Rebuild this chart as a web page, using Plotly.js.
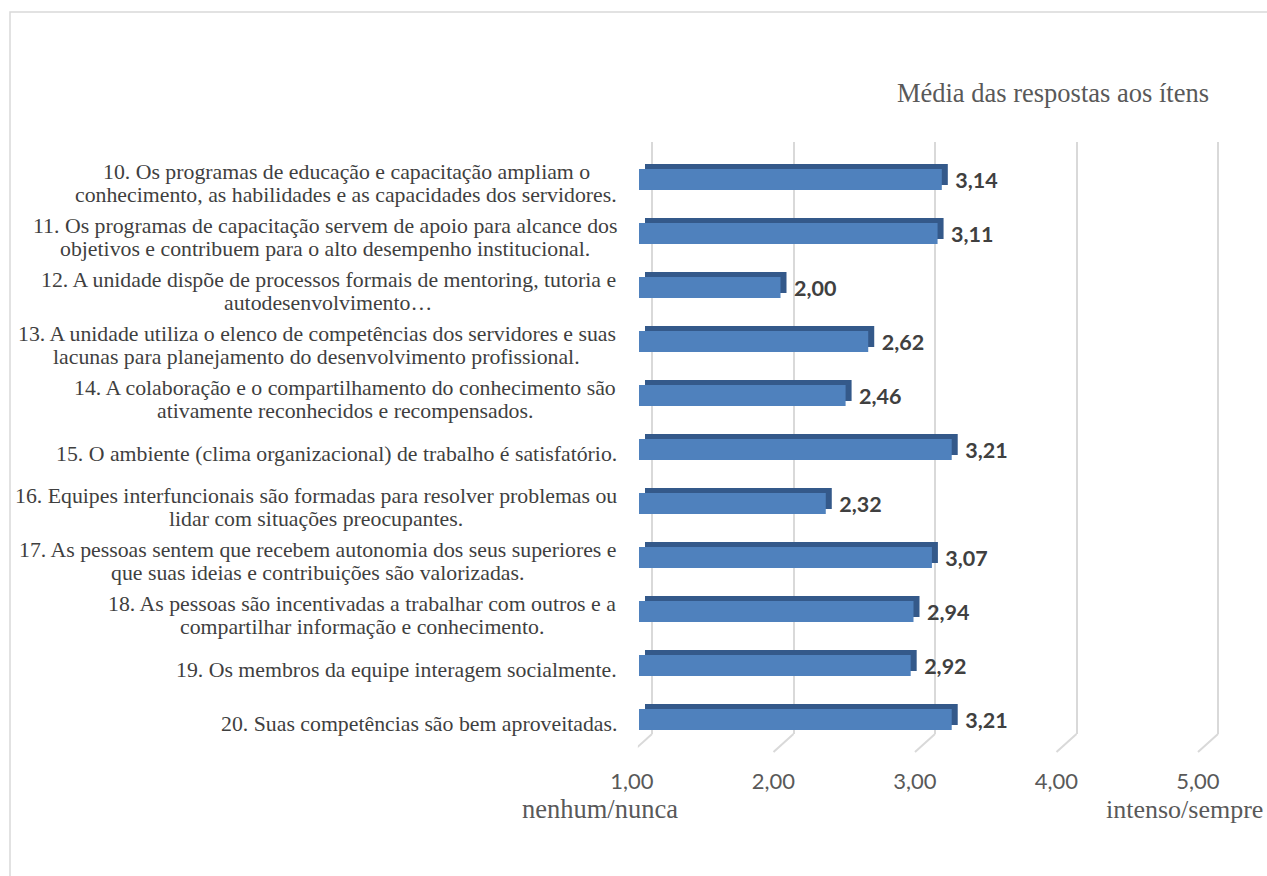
<!DOCTYPE html>
<html>
<head>
<meta charset="utf-8">
<script src="https://cdn.plot.ly/plotly-3.0.1.min.js"></script>
<style>html,body{margin:0;padding:0;background:#fff;}#chart{width:1267px;height:876px;}</style>
</head>
<body>
<div id="chart"></div>
<script>
// ---------- DATA ----------
const categories = [
  "10. Os programas de educação e capacitação ampliam o<br>conhecimento, as habilidades e as capacidades dos servidores.",
  "11. Os programas de capacitação servem de apoio para alcance dos<br>objetivos e contribuem para o alto desempenho institucional.",
  "12. A unidade dispõe de processos formais de mentoring, tutoria e<br>autodesenvolvimento…",
  "13. A unidade utiliza o elenco de competências dos servidores e suas<br>lacunas para planejamento do desenvolvimento profissional.",
  "14. A colaboração e o compartilhamento do conhecimento são<br>ativamente reconhecidos e recompensados.",
  "15. O ambiente (clima organizacional) de trabalho é satisfatório.",
  "16. Equipes interfuncionais são formadas para resolver problemas ou<br>lidar com situações preocupantes.",
  "17. As pessoas sentem que recebem autonomia dos seus superiores e<br>que suas ideias e contribuições são valorizadas.",
  "18. As pessoas são incentivadas a trabalhar com outros e a<br>compartilhar informação e conhecimento.",
  "19. Os membros da equipe interagem socialmente.",
  "20. Suas competências são bem aproveitadas."
];
const values = [3.14, 3.11, 2.00, 2.62, 2.46, 3.21, 2.32, 3.07, 2.94, 2.92, 3.21];
const xTicks = [1, 2, 3, 4, 5];
const chartTitle = "Média das respostas aos ítens";
const scaleLowLabel = "nenhum/nunca";
const scaleHighLabel = "intenso/sempre";

// ---------- GEOMETRY / STYLE ----------
const W = 1267, H = 876;
const PXU = 141.5;              // pixels per unit
const xr = [1, 5];
const px = p => p / W;
const py = p => 1 - p / H;
function xdom(startPx, range) { return [px(startPx), px(startPx + (range[1] - range[0]) * PXU)]; }
const frontX = 639, frontTop = 152.5, frontBot = 746.5;
const gridRange = [0.9, 5.1];
const gridStart = 652 - 0.1 * PXU;

const serif = "'Liberation Serif', 'Times New Roman', serif";
const sans = "Lato, 'Open Sans', sans-serif";
const labelSize = 21.8;

const base = xTicks[0];
const lengths = values.map(v => v - base);

const traces = [
  { // invisible trace anchoring the gridline subplot
    type: 'bar', orientation: 'h', x: lengths, base: base, y: categories, xaxis: 'x', yaxis: 'y',
    marker: {color: 'rgba(0,0,0,0)'}, hoverinfo: 'skip', showlegend: false, width: 0.39
  },
  { // depth (top/side faces)
    type: 'bar', orientation: 'h', x: lengths, base: base, y: categories, xaxis: 'x2', yaxis: 'y2',
    marker: {color: '#34598a', line: {width: 0}}, hoverinfo: 'skip', showlegend: false, width: 0.39
  },
  { // front faces
    type: 'bar', orientation: 'h', x: lengths, base: base, y: categories, customdata: values,
    xaxis: 'x3', yaxis: 'y3',
    marker: {color: '#4f81bd', line: {width: 0}}, showlegend: false, width: 0.39,
    texttemplate: '\u00a0\u00a0%{customdata:.2f}', textposition: 'outside', cliponaxis: false,
    constraintext: 'none',
    hovertemplate: '%{customdata:.2f}<extra></extra>',
    textfont: {family: sans, size: 21.5, color: '#404040', weight: 'bold'},
    outsidetextfont: {family: sans, size: 21.5, color: '#404040', weight: 'bold'}
  }
];

const yCommon = {type: 'category', categoryorder: 'array', categoryarray: categories,
  range: [categories.length - 0.5, -0.5], showticklabels: false, showgrid: false,
  zeroline: false, showline: false, ticks: ''};

// label annotations (each line centred inside a right-anchored block)
const cv = document.createElement('canvas').getContext('2d');
cv.font = labelSize + "px 'Liberation Serif'";
const labelRight = 617, lineGap = 23.5, labelDrop = 4;
const annotations = [];
categories.forEach(cat => {
  const lines = cat.split('<br>');
  const bw = Math.max(...lines.map(l => cv.measureText(l).width));
  lines.forEach((l, i) => {
    annotations.push({
      text: l, xref: 'paper', yref: 'y3', x: px(labelRight - bw / 2), y: cat,
      xanchor: 'center', yanchor: 'middle', showarrow: false,
      yshift: -((i - (lines.length - 1) / 2) * lineGap) - labelDrop,
      font: {family: serif, size: labelSize, color: '#3f3f3f'}
    });
  });
});
annotations.push({text: scaleLowLabel, xref: 'paper', yref: 'paper', x: px(600), y: py(809),
  xanchor: 'center', yanchor: 'middle', showarrow: false, font: {family: serif, size: 26.5, color: '#595959'}});
annotations.push({text: scaleHighLabel, xref: 'paper', yref: 'paper', x: px(1265), y: py(809),
  xanchor: 'right', yanchor: 'middle', showarrow: false, font: {family: serif, size: 26, color: '#595959'}});

const shapes = [{
  type: 'rect', xref: 'paper', yref: 'paper', x0: px(10), x1: 1.02, y0: -0.02, y1: py(12),
  line: {color: '#d9d9d9', width: 1.5}, layer: 'below'
}];
xTicks.forEach(t => shapes.push({
  type: 'line', xref: 'x', yref: 'paper', xsizemode: 'pixel', xanchor: t, x0: 0, x1: -20,
  y0: py(734), y1: py(752), line: {color: '#d9d9d9', width: 2}, layer: 'below'
}));

const layout = {
  width: W, height: H, margin: {l: 0, r: 0, t: 0, b: 0},
  paper_bgcolor: '#ffffff', plot_bgcolor: 'rgba(0,0,0,0)',
  separators: ',.', showlegend: false,
  title: {text: chartTitle, x: px(1209), xanchor: 'right', xref: 'paper', y: py(93), yref: 'paper',
    yanchor: 'middle', font: {family: serif, size: 26.5, color: '#595959'}},
  xaxis: {domain: xdom(gridStart, gridRange), range: gridRange, anchor: 'y', tickvals: xTicks,
    showgrid: true, gridcolor: '#d9d9d9', gridwidth: 2, showticklabels: false, zeroline: false,
    showline: false, ticks: ''},
  yaxis: Object.assign({}, yCommon, {domain: [py(734), py(142)], anchor: 'x'}),
  xaxis2: {domain: xdom(frontX + 6, xr), range: xr, anchor: 'y2', showgrid: false, showticklabels: false,
    zeroline: false, showline: false, ticks: ''},
  yaxis2: Object.assign({}, yCommon, {domain: [py(frontBot - 5), py(frontTop - 5)], anchor: 'x2'}),
  xaxis3: {domain: xdom(frontX, xr), range: xr, anchor: 'y3', tickvals: xTicks, tickformat: '.2f',
    showgrid: false, zeroline: false, showline: false, ticks: '',
    ticklabelshift: -7, ticklabelstandoff: 19,
    tickfont: {family: sans, size: 22, color: '#595959'}},
  yaxis3: Object.assign({}, yCommon, {domain: [py(frontBot), py(frontTop)], anchor: 'x3'}),
  annotations: annotations, shapes: shapes
};

Plotly.newPlot('chart', traces, layout, {displayModeBar: false, staticPlot: true});
</script>
</body>
</html>
